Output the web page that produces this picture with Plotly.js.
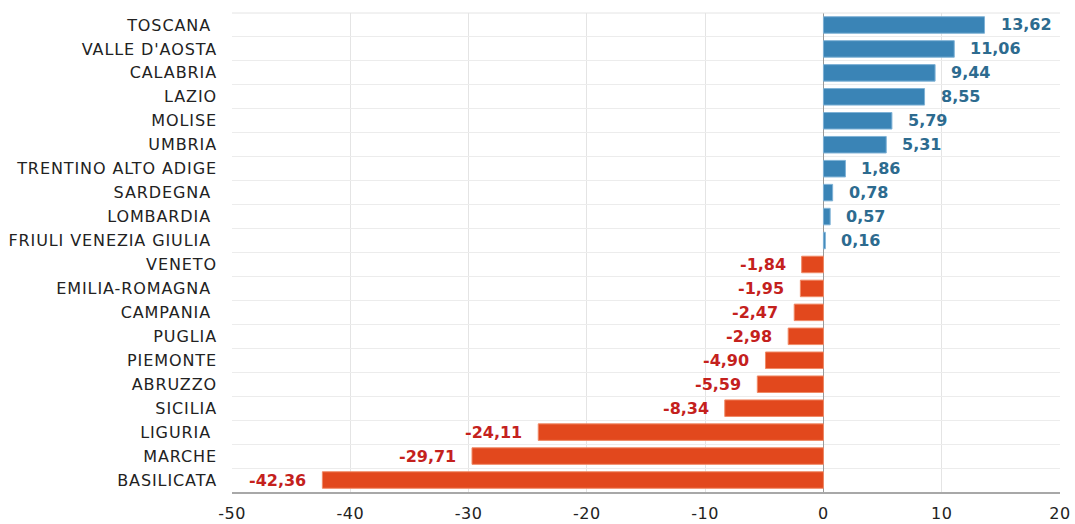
<!DOCTYPE html>
<html><head><meta charset="utf-8">
<script src="https://cdn.plot.ly/plotly-3.0.1.min.js"></script>
<style>html,body{margin:0;padding:0;background:#fff}#chart{width:1075px;height:524px}
#chart .ytick text{letter-spacing:0.9px}
#chart .xtick text{letter-spacing:0.5px}</style>
</head><body><div id="chart"></div>
<script>
const regions = ["TOSCANA ","VALLE D'AOSTA","CALABRIA","LAZIO","MOLISE","UMBRIA","TRENTINO ALTO ADIGE","SARDEGNA ","LOMBARDIA ","FRIULI VENEZIA GIULIA ","VENETO","EMILIA-ROMAGNA ","CAMPANIA ","PUGLIA","PIEMONTE","ABRUZZO","SICILIA","LIGURIA ","MARCHE","BASILICATA"];
const values = [13.62,11.06,9.44,8.55,5.79,5.31,1.86,0.78,0.57,0.16,-1.84,-1.95,-2.47,-2.98,-4.90,-5.59,-8.34,-24.11,-29.71,-42.36];
const xTicks = [-50,-40,-30,-20,-10,0,10,20];

const fmt = v => v.toFixed(2).replace('.', ',');
const barColors = values.map(v => v >= 0 ? '#3a84b6' : '#e2481d');
const lineColors = values.map(v => v >= 0 ? '#7fb2d6' : '#f08a66');
const labelColors = values.map(v => v >= 0 ? '#2d6b8f' : '#c4211d');

const trace = {
  type: 'bar', orientation: 'h',
  x: values, y: regions,
  marker: {color: barColors, line: {color: lineColors, width: 1}},
  width: 0.69,
  hoverinfo: 'none'
};

const annotations = values.map((v, i) => ({
  x: v, y: regions[i], xref: 'x', yref: 'y',
  text: fmt(v), showarrow: false,
  xanchor: v >= 0 ? 'left' : 'right',
  xshift: v >= 0 ? 14 : -14,
  font: {family: 'DejaVu Sans', size: 16, color: labelColors[i], weight: 'bold'}
}));

const layout = {
  width: 1075, height: 524,
  margin: {l: 232, r: 15, t: 13, b: 32},
  paper_bgcolor: '#fff', plot_bgcolor: '#fff',
  showlegend: false,
  font: {family: 'DejaVu Sans', color: '#222'},
  xaxis: {
    range: [-50, 20], tickvals: xTicks, ticktext: xTicks.map(String),
    showgrid: true, gridcolor: '#e4e4e4', gridwidth: 1,
    zeroline: true, zerolinecolor: '#9a9a9a', zerolinewidth: 1,
    showline: true, linecolor: '#a8a8a8', linewidth: 2,
    ticks: '', tickfont: {size: 16, color: '#222'}, ticklabelstandoff: 6,
    fixedrange: true, mirror: false
  },
  yaxis: {
    type: 'category', autorange: 'reversed',
    showgrid: true, gridcolor: '#ececec', gridwidth: 1, tickson: 'boundaries',
    ticks: '', showline: false,
    tickfont: {size: 16, color: '#222'}, ticklabelstandoff: 14,
    fixedrange: true
  },
  shapes: [
    {type: 'line', xref: 'paper', yref: 'paper', x0: 0, x1: 1, y0: 1, y1: 1, line: {color: '#e4e4e4', width: 1}}
  ],
  annotations: annotations
};

Plotly.newPlot('chart', [trace], layout, {displayModeBar: false, staticPlot: true});
</script></body></html>
